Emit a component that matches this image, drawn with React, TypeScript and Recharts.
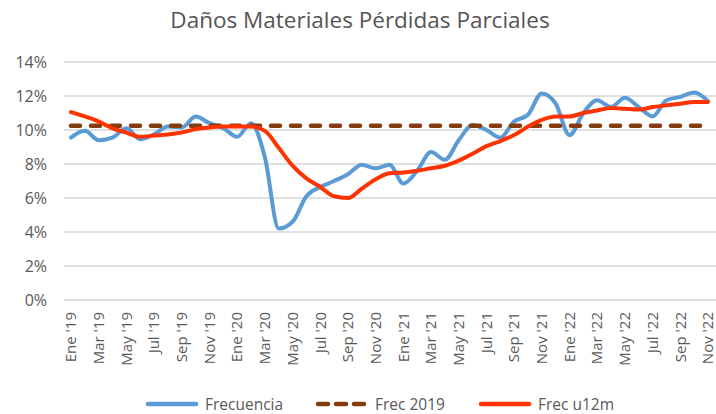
import React from 'react';
import { LineChart, Line, XAxis, YAxis, CartesianGrid, Legend } from 'recharts';

const FONT = '"Open Sans", "Noto Sans", sans-serif';
const TEXT = '#595959';

const months = [
  "Ene '19", "Feb '19", "Mar '19", "Abr '19", "May '19", "Jun '19", "Jul '19", "Ago '19", "Sep '19", "Oct '19", "Nov '19", "Dic '19",
  "Ene '20", "Feb '20", "Mar '20", "Abr '20", "May '20", "Jun '20", "Jul '20", "Ago '20", "Sep '20", "Oct '20", "Nov '20", "Dic '20",
  "Ene '21", "Feb '21", "Mar '21", "Abr '21", "May '21", "Jun '21", "Jul '21", "Ago '21", "Sep '21", "Oct '21", "Nov '21", "Dic '21",
  "Ene '22", "Feb '22", "Mar '22", "Abr '22", "May '22", "Jun '22", "Jul '22", "Ago '22", "Sep '22", "Oct '22", "Nov '22",
];

// frecuencia mensual (%)
const frecuencia = [
  9.55, 9.95, 9.4, 9.55, 10.1, 9.45, 9.75, 10.2, 10.15, 10.8, 10.4, 10.1,
  9.6, 10.4, 8.4, 4.2, 4.6, 6.1, 6.65, 7.0, 7.4, 7.95, 7.75, 7.95,
  6.85, 7.6, 8.7, 8.25, 9.4, 10.3, 10.0, 9.55, 10.5, 10.9, 12.15, 11.55,
  9.7, 11.0, 11.75, 11.35, 11.9, 11.35, 10.8, 11.75, 11.95, 12.2, 11.7,
];

// promedio movil 12 meses (%)
const frecU12m = [
  11.05, 10.8, 10.5, 10.1, 9.85, 9.6, 9.67, 9.73, 9.85, 10.05, 10.15, 10.2,
  10.2, 10.2, 9.95, 8.95, 7.9, 7.15, 6.65, 6.1, 6.0, 6.55, 7.1, 7.45,
  7.5, 7.6, 7.75, 7.9, 8.2, 8.6, 9.05, 9.35, 9.7, 10.2, 10.6, 10.8,
  10.8, 11.0, 11.15, 11.3, 11.25, 11.2, 11.35, 11.45, 11.55, 11.65, 11.65,
];

// nivel 2019, constante
const FREC_2019 = 10.25;

const yTicks = [0, 2, 4, 6, 8, 10, 12, 14];

const data = months.map((m, i) => ({
  month: m,
  frecuencia: frecuencia[i],
  frec2019: FREC_2019,
  frecU12m: frecU12m[i],
}));

const series = [
  { key: 'frecuencia', name: 'Frecuencia', color: '#5B9BD5', dashed: false, left: 145 },
  { key: 'frec2019', name: 'Frec 2019', color: '#843C0C', dashed: true, left: 315 },
  { key: 'frecU12m', name: 'Frec u12m', color: '#FF3300', dashed: false, left: 478 },
];

const MonthTick = (props: any) => {
  const { x, y, payload } = props;
  return (
    <text
      x={x}
      y={y}
      dy="0.35em"
      textAnchor="end"
      transform={`rotate(-90, ${x}, ${y})`}
      fill={TEXT}
      fontSize={15}
      fontFamily={FONT}
    >
      {payload.value}
    </text>
  );
};

const LegendContent = () => (
  <div style={{ position: 'relative', height: 30, width: 716 }}>
    {series.map((s) => (
      <div
        key={s.key}
        style={{ position: 'absolute', left: s.left, top: 11, display: 'flex', alignItems: 'center', height: 18 }}
      >
        <svg width={54} height={10} style={{ marginRight: 6 }}>
          <line
            x1={3}
            x2={51}
            y1={5}
            y2={5}
            stroke={s.color}
            strokeWidth={4.5}
            strokeLinecap="round"
            strokeDasharray={s.dashed ? '10 8' : undefined}
          />
        </svg>
        <span style={{ fontFamily: FONT, fontSize: 15.5, lineHeight: '18px', color: TEXT, whiteSpace: 'nowrap' }}>{s.name}</span>
      </div>
    ))}
  </div>
);

export default function App() {
  return (
    <div style={{ position: 'relative', width: 716, height: 414, background: '#fff' }}>
      <style>{'body{margin:0;}'}</style>
      <div
        style={{
          position: 'absolute',
          top: 0,
          left: 0,
          width: 720,
          textAlign: 'center',
          fontFamily: FONT,
          fontSize: 22.5,
          lineHeight: '40px',
          color: '#555',
        }}
      >
        Daños Materiales Pérdidas Parciales
      </div>
      <LineChart width={716} height={414} data={data} margin={{ top: 62, right: 0, left: 0, bottom: 0 }}>
        <CartesianGrid vertical={false} stroke="#d6d6d6" strokeWidth={1.5} />
        <XAxis
          dataKey="month"
          interval={1}
          tickLine={false}
          axisLine={false}
          tickSize={0}
          tickMargin={12}
          height={84}
          padding={{ left: 7, right: 8 }}
          tick={<MonthTick />}
        />
        <YAxis
          domain={[0, 14]}
          ticks={yTicks}
          width={64}
          tickLine={false}
          axisLine={false}
          tickSize={0}
          tickMargin={17}
          tickFormatter={(v: number) => `${v}%`}
          tick={{ fill: TEXT, fontSize: 16, fontFamily: FONT }}
        />
        <Legend verticalAlign="bottom" height={30} content={<LegendContent />} />
        {series.map((s) => (
          <Line
            key={s.key}
            name={s.name}
            dataKey={s.key}
            type={s.dashed ? 'linear' : 'monotone'}
            stroke={s.color}
            strokeWidth={s.dashed ? 4.5 : 4}
            strokeDasharray={s.dashed ? '9 11' : undefined}
            strokeLinecap="round"
            dot={false}
            isAnimationActive={false}
          />
        ))}
      </LineChart>
    </div>
  );
}
